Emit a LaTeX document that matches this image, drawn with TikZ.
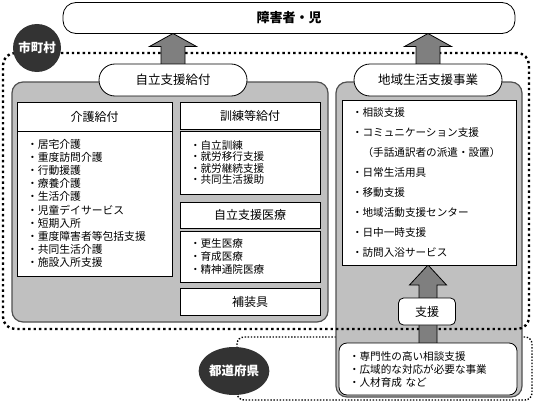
\documentclass[tikz,border=0pt]{standalone}
\usepackage{fontspec}
\setmainfont{Noto Sans CJK JP}
\usetikzlibrary{shapes.geometric,calc}
\pgfdeclarelayer{bg}
\pgfdeclarelayer{mid}
\pgfsetlayers{bg,mid,main}
\definecolor{panelgray}{HTML}{C0C0C0}
\definecolor{edgegray}{HTML}{505050}
\definecolor{arrowgray}{HTML}{7F7F7F}
\definecolor{darkfill}{HTML}{333333}

\begin{document}
\begin{tikzpicture}[x=1pt,y=-1pt,
  every node/.style={inner sep=0pt,outer sep=0pt},
  topbox/.style={draw,fill=white,line width=0.8pt,rounded corners=13pt,minimum width=452pt,minimum height=31pt,font=\fontsize{13}{15}\selectfont\bfseries},
  cityzone/.style={draw,line width=2.4pt,dash pattern=on 2.4pt off 3pt,rounded corners=12pt},
  prefzone/.style={draw,line width=1.4pt,dash pattern=on 1.4pt off 1.7pt,rounded corners=7pt},
  panel/.style={draw=edgegray,fill=panelgray,line width=1.2pt,rounded corners=11pt},
  badge/.style={fill=darkfill,text=white,font=\fontsize{12.5}{14}\selectfont\bfseries},
  pill/.style={draw,fill=white,line width=0.8pt,rounded corners=16pt,minimum width=148pt,minimum height=32pt,font=\fontsize{12.5}{14}\selectfont},
  headbox/.style={draw,fill=white,line width=0.8pt,minimum width=140pt,font=\fontsize{12}{14}\selectfont},
  listbox/.style={draw,fill=white,line width=0.8pt,align=left,inner xsep=10pt,text width=#1},
  fatarrow/.style={draw,fill=arrowgray,line width=0.8pt,line join=miter}]

  \useasboundingbox (0,0) rectangle (534,404);

  \begin{pgfonlayer}{bg}
    \node[prefzone,minimum width=295pt,minimum height=63pt] (prefarea) at (384.5,368.5) {};
    \node[panel,minimum width=316pt,minimum height=240pt] (kyufupanel) at (170,202) {};
    \node[panel,minimum width=186pt,minimum height=315pt] (chiikipanel) at (429,239.5) {};
    \node[cityzone,minimum width=526pt,minimum height=276pt] (cityarea) at (266,191) {};
  \end{pgfonlayer}

  \node[topbox] (people) at (289,18) {障害者・児};
  \node[badge,circle,minimum size=48pt] (city) at (37,48) {市町村};
  \node[badge,ellipse,minimum width=67pt,minimum height=48pt] (pref) at (234,371) {都道府県};

  \node[pill] (kyufu) at (173,80) {自立支援給付};
  \node[pill] (chiiki) at (428,80) {地域生活支援事業};

  \node[headbox,minimum width=155pt,minimum height=29pt] (kaigo) at (94.5,116.5) {介護給付};
  \node[listbox=135pt,minimum height=145pt,font=\fontsize{10.8}{13.2}\selectfont] (kaigolist) at (94.5,203.5)
    {・居宅介護\\・重度訪問介護\\・行動援護\\・療養介護\\・生活介護\\・児童デイサービス\\・短期入所\\・重度障害者等包括支援\\・共同生活介護\\・施設入所支援};

  \node[headbox,minimum height=27pt] (kunren) at (250,115.5) {訓練等給付};
  \node[listbox=120pt,minimum height=63pt,font=\fontsize{10.6}{11.4}\selectfont] (kunrenlist) at (250,162.5)
    {・自立訓練\\・就労移行支援\\・就労継続支援\\・共同生活援助};
  \node[headbox,minimum height=26pt] (iryo) at (250,215) {自立支援医療};
  \node[listbox=120pt,minimum height=51pt,font=\fontsize{10.6}{13}\selectfont] (iryolist) at (250,256.5)
    {・更生医療\\・育成医療\\・精神通院医療};
  \node[headbox,minimum height=27pt] (hosogu) at (250,301.5) {補装具};

  \node[listbox=154pt,minimum height=165pt,font=\fontsize{10.6}{20}\selectfont] (chiikilist) at (429,182.5)
    {・相談支援\\・コミュニケーション支援\\\phantom{・}（手話通訳者の派遣・設置）\\・日常生活用具\\・移動支援\\・地域活動支援センター\\・日中一時支援\\・訪問入浴サービス};
  \node[headbox,rounded corners=5pt,minimum width=57pt,minimum height=27pt] (shien) at (427,311.5) {支援};
  \node[listbox=158pt,rounded corners=8pt,minimum height=52pt,font=\fontsize{10.6}{13}\selectfont] (preflist) at (428,369)
    {・専門性の高い相談支援\\・広域的な対応が必要な事業\\・人材育成 など};

  \begin{pgfonlayer}{mid}
    \foreach \src/\dst/\sw/\hw/\hl in {kyufu/people/12/23.5/13, chiiki/people/12/23.5/13, preflist/chiikilist/9/18.5/20}
    {
      \path (\src.north) coordinate (s) (\src.north |- \dst.south) coordinate (t);
      \draw[fatarrow] ($(s)+(-\sw,2)$) -- ($(t)+(-\sw,\hl)$) -- ($(t)+(-\hw,\hl)$) -- (t)
        -- ($(t)+(\hw,\hl)$) -- ($(t)+(\sw,\hl)$) -- ($(s)+(\sw,2)$) -- cycle;
    }
  \end{pgfonlayer}
\end{tikzpicture}
\end{document}
